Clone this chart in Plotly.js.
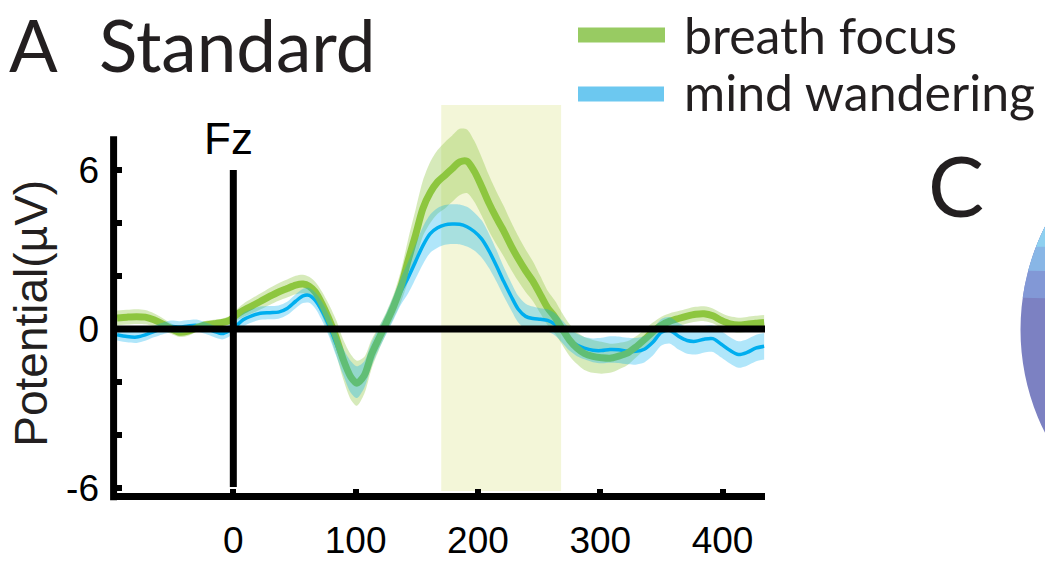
<!DOCTYPE html>
<html>
<head>
<meta charset="utf-8">
<script src="https://cdn.plot.ly/plotly-3.0.1.min.js"></script>
<style>html,body{margin:0;padding:0;background:#fff;}#chart{width:1045px;height:561px;}</style>
</head>
<body>
<div id="chart"></div>
<script>
// ---- data ----
const timesMs = [-95,-87,-79,-72,-65,-58,-51,-44,-37,-30,-23,-16,-9,-3,
  2,8,15,22,30,37,44,51,57,62,67,72,78,84,90,96,101,107,113,119,125,
  131,137,143,149,155,161,167,173,179,185,191,197,203,209,215,221,227,233,239,245,251,257,263,269,275,281,287,
  294,301,308,315,322,329,336,343,350,357,364,371,378,385,392,399,406,413,420,427,434];

const breathFocus = [0.42,0.45,0.47,0.45,0.35,0.2,0.02,-0.12,-0.08,0.05,0.16,0.2,0.25,0.33,
  0.52,0.7,0.87,1.04,1.24,1.4,1.53,1.66,1.7,1.62,1.4,1.0,0.4,-0.3,-1.16,-1.8,-2.04,-1.75,-0.95,-0.35,0.23,
  0.85,1.6,2.6,3.55,4.55,5.15,5.55,5.8,6.05,6.3,6.33,5.95,5.38,4.75,4.2,3.7,3.15,2.65,2.2,1.8,1.3,0.8,0.45,0.0,-0.42,-0.72,-0.92,
  -1.03,-1.08,-1.1,-1.02,-0.91,-0.68,-0.4,-0.1,0.15,0.3,0.4,0.49,0.56,0.58,0.5,0.33,0.2,0.15,0.18,0.22,0.25];

const mindWandering = [-0.21,-0.28,-0.3,-0.22,-0.09,0.02,0.1,0.08,0.12,0.14,0.04,-0.08,-0.17,-0.05,
  0.1,0.35,0.5,0.6,0.62,0.64,0.78,1.05,1.25,1.27,1.08,0.72,0.15,-0.55,-1.25,-1.8,-2.0,-1.72,-0.95,-0.35,0.2,
  0.8,1.42,1.95,2.55,3.15,3.6,3.82,3.93,3.96,3.95,3.86,3.68,3.4,2.95,2.4,1.8,1.25,0.75,0.48,0.4,0.37,0.33,0.18,-0.1,-0.4,-0.6,-0.72,
  -0.8,-0.81,-0.77,-0.78,-0.83,-0.84,-0.76,-0.5,-0.12,-0.05,-0.27,-0.43,-0.46,-0.38,-0.36,-0.57,-0.8,-0.96,-0.88,-0.72,-0.65];

const breathFocusErr = [0.28,0.28,0.28,0.27,0.25,0.22,0.2,0.18,0.17,0.16,0.15,0.15,0.15,0.16,
  0.2,0.25,0.28,0.3,0.32,0.33,0.34,0.35,0.35,0.35,0.38,0.45,0.55,0.65,0.75,0.85,0.85,0.7,0.55,0.45,0.4,
  0.45,0.6,0.8,0.95,1.05,1.15,1.2,1.25,1.25,1.25,1.2,1.15,1.1,1.05,1.0,0.95,0.9,0.85,0.8,0.75,0.7,0.65,0.62,0.6,0.6,0.6,0.62,
  0.62,0.6,0.55,0.5,0.45,0.4,0.38,0.35,0.32,0.3,0.28,0.28,0.28,0.28,0.28,0.28,0.28,0.28,0.28,0.28,0.28];

const mindWanderingErr = [0.22,0.22,0.22,0.22,0.22,0.22,0.22,0.22,0.22,0.22,0.22,0.22,0.22,0.22,
  0.22,0.25,0.25,0.25,0.25,0.25,0.25,0.26,0.27,0.28,0.3,0.35,0.4,0.45,0.5,0.6,0.6,0.5,0.45,0.4,0.4,
  0.45,0.5,0.6,0.65,0.7,0.72,0.75,0.75,0.75,0.75,0.75,0.72,0.7,0.65,0.6,0.55,0.52,0.5,0.48,0.45,0.42,0.42,0.42,0.42,0.42,0.42,0.42,
  0.45,0.48,0.5,0.5,0.5,0.5,0.5,0.5,0.5,0.5,0.5,0.5,0.5,0.5,0.5,0.5,0.5,0.5,0.5,0.5,0.5];

const seriesNames = ['breath focus', 'mind wandering'];
const xTickVals = [0, 100, 200, 300, 400];
const yTickVals = [-6, -4, -2, 0, 2, 4, 6];
const yTickText = ['-6', '', '', '0', '', '', '6'];
const analysisWindow = [170, 268];
const panelLabels = ['A', 'Standard', 'C'];
const channelLabel = 'Fz';
const yAxisLabel = 'Potential(µV)';

// ---- geometry helpers (layout only) ----
const W = 1045, H = 561;
const M = {l: 117, r: 280, t: 105.4, b: 67.8};
const PW = W - M.l - M.r, PH = H - M.t - M.b;
const px2x = p => (p - M.l) / PW;
const py2y = p => (H - M.b - p) / PH;

const GREEN = '#8dc63f', BLUE = '#00aeef';
const GREEN_BAND = 'rgba(141,198,63,0.36)', BLUE_BAND = 'rgba(0,174,239,0.31)';

const upper = (m, e) => m.map((v, i) => v + e[i]);
const lower = (m, e) => m.map((v, i) => v - e[i]);
const sp = {shape: 'spline', smoothing: 0.8};

const traces = [
  {x: timesMs, y: lower(breathFocus, breathFocusErr), mode: 'lines', line: Object.assign({width: 0, color: GREEN_BAND}, sp), hoverinfo: 'skip', showlegend: false},
  {x: timesMs, y: upper(breathFocus, breathFocusErr), mode: 'lines', fill: 'tonexty', fillcolor: GREEN_BAND, line: Object.assign({width: 0, color: GREEN_BAND}, sp), hoverinfo: 'skip', showlegend: false},
  {x: timesMs, y: mindWandering, mode: 'lines', name: seriesNames[1], line: Object.assign({width: 3.5, color: BLUE}, sp)},
  {x: timesMs, y: breathFocus, mode: 'lines', name: seriesNames[0], line: Object.assign({width: 7, color: GREEN}, sp)},
  {x: timesMs, y: lower(mindWandering, mindWanderingErr), mode: 'lines', line: Object.assign({width: 0, color: BLUE_BAND}, sp), hoverinfo: 'skip', showlegend: false},
  {x: timesMs, y: upper(mindWandering, mindWanderingErr), mode: 'lines', fill: 'tonexty', fillcolor: BLUE_BAND, line: Object.assign({width: 0, color: BLUE_BAND}, sp), hoverinfo: 'skip', showlegend: false}
];

// topographic map sliver (panel C) : circle + lighter upper bands
const cx = 1249.5, cy = 330, R = 229;
function capPath(pyTop, pyBot) {
  const pts = [];
  for (let p = pyTop; p <= pyBot; p += 3) {
    const dx = Math.sqrt(Math.max(0, R * R - (p - cy) * (p - cy)));
    pts.push([cx - dx, p]);
  }
  pts.push([1100, pyBot]); pts.push([1100, pyTop]);
  return 'M' + pts.map(q => px2x(q[0]).toFixed(5) + ',' + py2y(q[1]).toFixed(5)).join('L') + 'Z';
}

const shapes = [
  {type: 'rect', layer: 'below', xref: 'x', yref: 'y', x0: analysisWindow[0], x1: analysisWindow[1], y0: -6.1, y1: 8.45, fillcolor: '#f3f6d8', line: {width: 0}},
  {type: 'line', layer: 'above', xref: 'paper', yref: 'y', x0: 0, x1: 1, y0: 0, y1: 0, line: {color: '#000', width: 7}},
  {type: 'line', layer: 'above', xref: 'x', yref: 'y', x0: 0, x1: 0, y0: -5.95, y1: 6.0, line: {color: '#000', width: 7}},
  {type: 'line', layer: 'above', xref: 'paper', yref: 'paper', x0: px2x(113.6), x1: px2x(113.6), y0: py2y(500.4), y1: py2y(136.7), line: {color: '#000', width: 7}},
  // legend swatches
  {type: 'rect', xref: 'paper', yref: 'paper', x0: px2x(578), x1: px2x(665), y0: py2y(43), y1: py2y(28), fillcolor: '#98cb62', line: {width: 0}},
  {type: 'rect', xref: 'paper', yref: 'paper', x0: px2x(578), x1: px2x(664), y0: py2y(102), y1: py2y(87), fillcolor: '#6cc8f0', line: {width: 0}},
  // topo map
  {type: 'circle', xref: 'paper', yref: 'paper', x0: px2x(cx - R), x1: px2x(cx + R), y0: py2y(cy + R), y1: py2y(cy - R), fillcolor: '#7c81c2', line: {width: 0}},
  {type: 'path', xref: 'paper', yref: 'paper', path: capPath(220, 300), fillcolor: '#8298d6', line: {width: 0}},
  {type: 'path', xref: 'paper', yref: 'paper', path: capPath(220, 272), fillcolor: '#88b6e6', line: {width: 0}},
  {type: 'path', xref: 'paper', yref: 'paper', path: capPath(220, 248), fillcolor: '#8ed0f0', line: {width: 0}}
];

const TXT = '#231f20';
const annotations = [
  {xref: 'paper', yref: 'paper', x: px2x(33), y: py2y(44.5), text: panelLabels[0], showarrow: false, xanchor: 'center', yanchor: 'middle', font: {family: 'Lato', size: 72, color: TXT}},
  {xref: 'paper', yref: 'paper', x: px2x(97), y: py2y(44.5), text: panelLabels[1], showarrow: false, xanchor: 'left', yanchor: 'middle', font: {family: 'Lato', size: 71, color: TXT}},
  {xref: 'paper', yref: 'paper', x: px2x(956), y: py2y(185), text: panelLabels[2], showarrow: false, xanchor: 'center', yanchor: 'middle', font: {family: 'Lato', size: 84, color: TXT}},
  {xref: 'paper', yref: 'paper', x: px2x(228), y: py2y(139), text: channelLabel, showarrow: false, xanchor: 'center', yanchor: 'middle', font: {family: 'Liberation Sans, Arial', size: 44, color: '#000'}},
  {xref: 'paper', yref: 'paper', x: px2x(682), y: py2y(35), text: seriesNames[0], showarrow: false, xanchor: 'left', yanchor: 'middle', font: {family: 'Lato', size: 50, color: TXT}},
  {xref: 'paper', yref: 'paper', x: px2x(682), y: py2y(92), text: seriesNames[1], showarrow: false, xanchor: 'left', yanchor: 'middle', font: {family: 'Lato', size: 50, color: TXT}},
  {xref: 'paper', yref: 'paper', x: px2x(31), y: py2y(314), text: yAxisLabel, textangle: -90, showarrow: false, xanchor: 'center', yanchor: 'middle', font: {family: 'Liberation Sans, Arial', size: 46, color: TXT}}
];

const layout = {
  width: W, height: H,
  margin: M,
  paper_bgcolor: '#fff', plot_bgcolor: '#fff',
  showlegend: false,
  xaxis: {
    range: [-95.1, 434.7], showgrid: false, zeroline: false,
    showline: true, linewidth: 7, linecolor: '#000',
    ticks: 'inside', ticklen: 4, tickwidth: 6, tickcolor: '#000',
    tickmode: 'array', tickvals: xTickVals, ticktext: xTickVals.map(String),
    tickfont: {family: 'Liberation Sans, Arial', size: 37, color: '#000'},
    ticklabelstandoff: 9
  },
  yaxis: {
    range: [-6.18, 8.45], showgrid: false, zeroline: false, showline: false,
    ticks: 'inside', ticklen: 5, tickwidth: 6, tickcolor: '#000',
    tickmode: 'array', tickvals: yTickVals, ticktext: yTickText,
    tickfont: {family: 'Liberation Sans, Arial', size: 37, color: '#000'},
    ticklabelstandoff: 17
  },
  shapes: shapes,
  annotations: annotations
};

Plotly.newPlot('chart', traces, layout, {staticPlot: true, displayModeBar: false});
</script>
</body>
</html>
